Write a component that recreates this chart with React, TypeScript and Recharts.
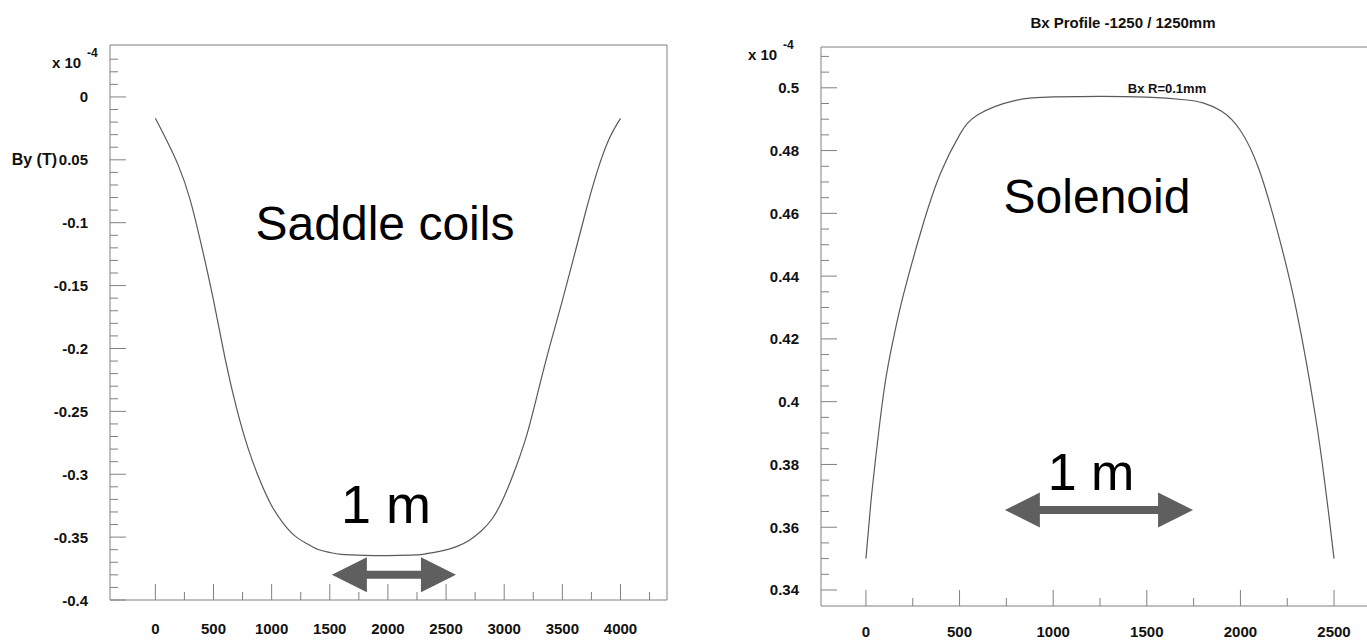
import React from "react";
import { LineChart, Line, XAxis, YAxis, ReferenceLine } from "recharts";

// Saddle coil field profile (By, units of 1e-4 T) vs position in mm
const saddleX = [0, 100, 200, 300, 400, 500, 600, 700, 800, 900, 1000, 1100, 1200, 1300, 1400, 1500, 1600, 1800, 2000, 2200, 2300, 2400, 2500, 2600, 2700, 2800, 2900, 3000, 3100, 3200, 3300, 3400, 3500, 3600, 3700, 3800, 3900, 4000];
const saddleBy = [-0.017, -0.035, -0.055, -0.082, -0.1195, -0.1616, -0.208, -0.248, -0.28, -0.305, -0.325, -0.339, -0.349, -0.355, -0.3598, -0.3622, -0.3637, -0.3645, -0.3647, -0.3643, -0.3637, -0.3622, -0.3602, -0.3572, -0.3525, -0.3453, -0.335, -0.3177, -0.2946, -0.2669, -0.231, -0.1954, -0.162, -0.127, -0.0915, -0.0592, -0.0338, -0.017];

// Solenoid field profile (Bx, units of 1e-4 T)
const solX = [0, 25, 50, 100, 150, 200, 300, 400, 500, 600, 800, 1000, 1250, 1500, 1700, 1800, 1900, 2000, 2100, 2200, 2300, 2400, 2450, 2475, 2500];
const solBx = [0.35, 0.367, 0.381, 0.405, 0.421, 0.434, 0.4555, 0.473, 0.485, 0.4915, 0.496, 0.4971, 0.4973, 0.497, 0.4962, 0.4952, 0.4925, 0.4864, 0.4739, 0.4538, 0.4288, 0.3956, 0.3744, 0.3625, 0.35];

// axis tick labels
const saddleXMajor = [0, 500, 1000, 1500, 2000, 2500, 3000, 3500, 4000];
const saddleXLabels = ["0", "500", "1000", "1500", "2000", "2500", "3000", "3500", "4000"];
const saddleYMajor = [0, -0.05, -0.1, -0.15, -0.2, -0.25, -0.3, -0.35, -0.4];
const saddleYLabels = ["0", "0.05", "-0.1", "-0.15", "-0.2", "-0.25", "-0.3", "-0.35", "-0.4"];
const solXMajor = [0, 500, 1000, 1500, 2000, 2500];
const solXLabels = ["0", "500", "1000", "1500", "2000", "2500"];
const solYMajor = [0.34, 0.36, 0.38, 0.4, 0.42, 0.44, 0.46, 0.48, 0.5];
const solYLabels = ["0.34", "0.36", "0.38", "0.4", "0.42", "0.44", "0.46", "0.48", "0.5"];

const saddleData = saddleX.map((x, i) => ({ x, y: saddleBy[i] }));
const solData = solX.map((x, i) => ({ x, y: solBx[i] }));

const steps = (from: number, to: number, step: number) => {
  const out: number[] = [];
  const n = Math.round((to - from) / step);
  for (let i = 0; i <= n; i++) out.push(Math.round((from + i * step) * 1e6) / 1e6);
  return out;
};

const FONT = "'Liberation Sans', Arial, Helvetica, sans-serif";
const AXIS = "#808080";
const INK = "#111";
const CURVE = "#5a5a5a";

const findLabel = (v: number, majors: number[], labels: string[]) => {
  const i = majors.findIndex((m) => Math.abs(m - v) < 1e-7);
  return i >= 0 ? labels[i] : null;
};

const makeYTick = (majors: number[], labels: string[]) => (props: any) => {
  const { x, y, payload } = props;
  const label = findLabel(payload.value, majors, labels);
  return (
    <g>
      <line x1={x} y1={y} x2={x + (label !== null ? 16 : 8)} y2={y} stroke={AXIS} />
      {label !== null && (
        <text x={x - 22} y={y} textAnchor="end" dominantBaseline="central" fontFamily={FONT} fontWeight="bold" fontSize={15} fill={INK}>
          {label}
        </text>
      )}
    </g>
  );
};

const makeXTick = (majors: number[], labels: string[], dy: number) => (props: any) => {
  const { x, y, payload } = props;
  const label = findLabel(payload.value, majors, labels);
  return (
    <g>
      <line x1={x} y1={y} x2={x} y2={y - (label !== null ? 16 : 8)} stroke={AXIS} />
      {label !== null && (
        <text x={x} y={y + dy} textAnchor="middle" dominantBaseline="central" fontFamily={FONT} fontWeight="bold" fontSize={15} fill={INK}>
          {label}
        </text>
      )}
    </g>
  );
};

// double-headed block arrow drawn between the segment ends
const DoubleArrow = (props: any) => {
  const { x1, y1, x2 } = props;
  const y = y1;
  const h = 35;
  const hw = 17.5;
  const sw = 4;
  const pts = [
    [x1, y], [x1 + h, y - hw], [x1 + h, y - sw], [x2 - h, y - sw], [x2 - h, y - hw],
    [x2, y], [x2 - h, y + hw], [x2 - h, y + sw], [x1 + h, y + sw], [x1 + h, y + hw],
  ].map((p) => p.join(",")).join(" ");
  return <polygon points={pts} fill="#5f5f5f" />;
};

const App = () => {
  return (
    <div style={{ position: "absolute", left: 0, top: 0, width: 1367, height: 641, background: "#fff", overflow: "hidden" }}>
      <div style={{ position: "absolute", left: 0, top: 0 }}>
        <LineChart width={700} height={641} data={saddleData} margin={{ top: 45, right: 33, bottom: 0, left: 0 }}>
          <XAxis
            dataKey="x"
            type="number"
            domain={[-390, 4400]}
            allowDataOverflow
            ticks={steps(0, 4250, 250)}
            interval={0}
            height={41}
            tickSize={0}
            tickMargin={0}
            tickLine={false}
            axisLine={{ stroke: AXIS }}
            tick={makeXTick(saddleXMajor, saddleXLabels, 28)}
          />
          <YAxis
            type="number"
            domain={[-0.4, 0.0413]}
            allowDataOverflow
            ticks={steps(-0.4, 0.03, 0.01)}
            interval={0}
            width={110}
            tickSize={0}
            tickMargin={0}
            tickLine={false}
            axisLine={{ stroke: AXIS }}
            tick={makeYTick(saddleYMajor, saddleYLabels)}
          />
          <ReferenceLine y={0.0413} stroke={AXIS} />
          <ReferenceLine x={4400} stroke={AXIS} />
          <Line dataKey="y" type="natural" stroke={CURVE} strokeWidth={1.2} dot={false} isAnimationActive={false} />
          <ReferenceLine
            segment={[{ x: 1518, y: -0.38 }, { x: 2585, y: -0.38 }]}
            shape={DoubleArrow}
          />
        </LineChart>
      </div>

      <div style={{ position: "absolute", left: 700, top: 0 }}>
        <LineChart width={667} height={641} data={solData} margin={{ top: 47, right: 0, bottom: 0, left: 0 }}>
          <XAxis
            dataKey="x"
            type="number"
            domain={[-240, 2676]}
            allowDataOverflow
            ticks={steps(0, 2500, 250)}
            interval={0}
            height={35}
            tickSize={0}
            tickMargin={0}
            tickLine={false}
            axisLine={{ stroke: AXIS }}
            tick={makeXTick(solXMajor, solXLabels, 25)}
          />
          <YAxis
            type="number"
            domain={[0.3349, 0.513]}
            allowDataOverflow
            ticks={steps(0.34, 0.51, 0.005)}
            interval={0}
            width={121}
            tickSize={0}
            tickMargin={0}
            tickLine={false}
            axisLine={{ stroke: AXIS }}
            tick={makeYTick(solYMajor, solYLabels)}
          />
          <ReferenceLine y={0.513} stroke={AXIS} />
          <Line dataKey="y" type="natural" stroke={CURVE} strokeWidth={1.2} dot={false} isAnimationActive={false} />
          <ReferenceLine
            segment={[{ x: 742, y: 0.3655 }, { x: 1747, y: 0.3655 }]}
            shape={DoubleArrow}
          />
        </LineChart>
      </div>

      <svg width={1367} height={641} style={{ position: "absolute", left: 0, top: 0, pointerEvents: "none" }}>
        <g fontFamily={FONT} fontWeight="bold" fill={INK}>
          <text x={52} y={68} fontSize={15}>x 10</text>
          <text x={87} y={57} fontSize={12}>-4</text>
          <text x={57} y={159} fontSize={16} textAnchor="end" dominantBaseline="central">By (T)</text>
          <text x={748} y={60} fontSize={15}>x 10</text>
          <text x={783} y={49} fontSize={12}>-4</text>
          <text x={1123} y={22} fontSize={15} textAnchor="middle" dominantBaseline="central">Bx Profile -1250 / 1250mm</text>
          <text x={1167} y={88} fontSize={13} textAnchor="middle" dominantBaseline="central">Bx R=0.1mm</text>
        </g>
        <g fontFamily={FONT} fill="#000">
          <text x={385} y={240} fontSize={48} textAnchor="middle">Saddle coils</text>
          <text x={1097} y={213} fontSize={48} textAnchor="middle">Solenoid</text>
          <text x={386} y={523} fontSize={54} textAnchor="middle">1 m</text>
          <text x={1091} y={490} fontSize={52} textAnchor="middle">1 m</text>
        </g>
      </svg>
    </div>
  );
};

export default App;
